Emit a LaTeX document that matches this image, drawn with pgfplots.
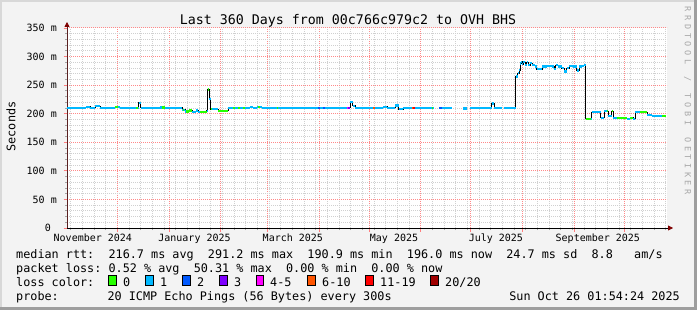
\documentclass[border=0pt]{standalone}
\usepackage{pgfplots}
\pgfplotsset{compat=1.18}
\usepackage{pgfplotstable}
\usepackage{fontspec}
\usetikzlibrary{arrows.meta}
\newfontfamily\dvm{DejaVu Sans Mono}
\newcommand\titlefont{\dvm\fontsize{13.3bp}{16bp}\selectfont}
\newcommand\legfont{\dvm\fontsize{11.8bp}{14bp}\selectfont}
\newcommand\tickfont{\dvm\fontsize{10bp}{12bp}\selectfont}
\newcommand\wl[1]{\makebox[8.7bp][c]{#1}}
\definecolor{bgc}{HTML}{F3F3F3}
\definecolor{shadea}{HTML}{D8D8D8}
\definecolor{shadeb}{HTML}{9E9E9E}
\definecolor{mgrid}{HTML}{FF2828}
\definecolor{ngrid}{HTML}{D0D0D0}
\definecolor{arrowc}{HTML}{7F0000}
\definecolor{yaxc}{HTML}{5A2020}
\definecolor{wmc}{HTML}{A8A8A8}
\definecolor{lc0}{HTML}{26FF00}
\definecolor{lc1}{HTML}{00B8FF}
\definecolor{lc2}{HTML}{0059FF}
\definecolor{lc3}{HTML}{7E00FF}
\definecolor{lc4}{HTML}{FF00FF}
\definecolor{lc6}{HTML}{FF5500}
\definecolor{lc11}{HTML}{FF0000}
\definecolor{lc20}{HTML}{A00000}

\pgfplotstableread{
day rtt
0 210.5
11.4 212
13.8 210.5
16.8 213
19.8 210.5
28.8 211.5
31.8 210.5
42.9 219
44.1 210.5
55.8 211
58.8 210.5
69.0 207
70.8 204
73.2 205.5
75.0 203.5
77.4 205.5
78.6 203.5
83.7 205
84.3 242.5
85.2 226
86.1 208
90.6 205
96.6 209.5
101.4 210.5
109.8 211.5
111.6 210.5
114.0 211.5
117.0 210.5
169.8 220
171.3 214
172.8 210.5
189.6 212
192.0 210.5
196.8 214.5
198.9 208
201.6 210.5
220.2 210.5
220.21 nan
223.2 210.5
231.0 210.5
231.01 nan
237.6 209
240.0 209
240.01 nan
241.8 210.5
254.7 218
256.2 210.5
261.0 210.5
261.01 nan
261.9 210.5
269.2 265
270.4 270.7
271.2 276.5
271.8 288
272.4 291
273.2 287
273.8 290.5
274.8 285.4
275.8 290.5
276.8 285.4
277.8 288.3
279.2 285.4
280.8 282.5
281.8 277.9
285.2 282.5
287.8 283.6
290.8 282.5
292.2 277.9
293.2 285.4
294.8 282.5
296.8 279.6
298.4 273.8
299.8 279.6
301.2 283.6
303.8 282.5
305.8 275.6
307.2 282.5
308.8 283.6
309.9 285.4
311.1 191
314.8 202.5
320.2 193
322.4 204.8
324.8 196.5
326.8 204.8
327.8 193
335.8 191
337.8 193
339.8 191
340.8 202.5
348.0 197.8
350.8 196.5
359.4 196.5
}\median

\begin{document}
\begin{tikzpicture}[x=1bp,y=1bp]
\useasboundingbox (0,0) rectangle (697,310);
\fill[bgc] (0,0) rectangle (697,310);
\fill[shadea] (0,0) rectangle (2,310);
\fill[shadea] (0,308) rectangle (697,310);
\fill[shadeb] (694,0) rectangle (697,310);
\fill[shadeb] (0,0) rectangle (697,3);

\begin{axis}[
  at={(67bp,82bp)}, anchor=south west,
  scale only axis, width=600bp, height=200bp,
  xmin=0, xmax=360, ymin=0, ymax=350,
  axis background/.style={fill=white},
  axis lines=left,
  x axis line style={black, line width=0.8bp, shorten >=-6bp, -{Triangle[length=5bp,width=5bp,color=arrowc]}},
  y axis line style={yaxc, line width=0.8bp, shorten >=-6bp, -{Triangle[length=5bp,width=5bp,color=arrowc]}},
  unbounded coords=jump,
  xtick={30.2,61.2,92.2,120.2,151.2,181.2,212.2,242.2,273.2,304.2,334.2},
  xticklabels={{},{},{},{},{},{},{},{},{},{},{}},
  minor xtick={2.2,9.2,...,359.2},
  extra x ticks={15.5,76.5,135.5,196.2,257.3,318.5},
  extra x tick labels={November 2024,January 2025,March 2025,May 2025,July 2025,September 2025},
  extra x tick style={grid=none, major tick length=0pt},
  xticklabel style={font=\tickfont, anchor=base, inner sep=0pt, yshift=-13.7bp},
  ytick={0,50,...,350},
  yticklabels={0~~,50~m,100~m,150~m,200~m,250~m,300~m,350~m},
  minor ytick={10,20,30,40,60,70,80,90,110,120,130,140,160,170,180,190,210,220,230,240,260,270,280,290,310,320,330,340},
  yticklabel style={font=\tickfont, anchor=east, inner sep=0pt, xshift=-6.5bp},
  grid=both,
  minor grid style={ngrid, dash pattern=on 1bp off 1bp, line width=1bp},
  major grid style={mgrid!55!white, dash pattern=on 1bp off 1bp, line width=1bp},
  tick align=outside,
  major tick length=3.5bp, minor tick length=2bp,
  major tick style={mgrid!60!white, line width=0.8bp},
  minor tick style={ngrid!80!black, line width=0.8bp},
]
\addplot[const plot, black, line width=0.8bp] table[x=day,y=rtt]{\median};
\addplot[jump mark left, lc1, line width=2.2bp] table[x=day,y=rtt]{\median};
\addplot[lc0, line width=2.2bp] coordinates {
(28.8,211.5)(30.6,211.5)(30.6,nan)
(41.4,210.5)(42.6,210.5)(42.6,nan)
(56.8,211)(58.8,211)(58.8,nan)
(69.4,207)(70.2,207)(70.2,nan)
(71.4,204)(73.2,204)(73.2,nan)
(73.3,205.5)(75,205.5)(75,nan)
(79.8,203.5)(83.7,203.5)(83.7,nan)
(84.3,242.5)(85.2,242.5)(85.2,nan)
(86.1,208)(87,208)(87,nan)
(90.6,205)(96.6,205)(96.6,nan)
(99.6,209.5)(100.8,209.5)(100.8,nan)
(102.6,210.5)(103.8,210.5)(103.8,nan)
(105.6,210.5)(106.8,210.5)(106.8,nan)
(114.6,211.5)(115.8,211.5)(115.8,nan)
(126,210.5)(126.6,210.5)(126.6,nan)
(218.8,210.5)(219.8,210.5)(219.8,nan)
(311.1,191)(314.4,191)(314.4,nan)
(323.8,204.8)(324.8,204.8)(324.8,nan)
(326.8,204.8)(327.6,204.8)(327.6,nan)
(330,193)(335.8,193)(335.8,nan)
(337.8,193)(339.8,193)(339.8,nan)
(343.8,202.5)(347.8,202.5)(347.8,nan)
(357,196.5)(359.4,196.5)
};
\addplot[lc2, line width=2.2bp] coordinates {
(150.6,210.5)(151.8,210.5)(151.8,nan)
(153.6,210.5)(154.8,210.5)(154.8,nan)
(223.2,210.5)(224.8,210.5)
};
\addplot[lc6, line width=2.2bp] coordinates {
(183.8,210.5)(184.8,210.5)(184.8,nan)
(206.8,210.5)(207.8,210.5)
};
\addplot[lc11, line width=2.2bp] coordinates {(207.8,210.5)(208.8,210.5)};
\addplot[lc4, line width=2.2bp] coordinates {(167.8,210.5)(168.8,210.5)};
\addplot[lc3, line width=2.2bp] coordinates {(168.8,210.5)(169.5,210.5)};
\end{axis}

% title
\node[anchor=base, inner sep=0pt] at (348,286) {\titlefont Last 360 Days from 00c766c979c2 to OVH BHS};
% y label
\node[rotate=90, inner sep=0pt] at (11,183.5) {\legfont Seconds};
% watermark
\node[rotate=-90, anchor=west, inner sep=0pt, text=wmc] at (687.5,305) {\dvm\fontsize{8.5bp}{9bp}\selectfont \wl{R}\wl{R}\wl{D}\wl{T}\wl{O}\wl{O}\wl{L}\wl{~}\wl{/}\wl{~}\wl{T}\wl{O}\wl{B}\wl{I}\wl{~}\wl{O}\wl{E}\wl{T}\wl{I}\wl{K}\wl{E}\wl{R}};

% legend
\node[anchor=base west, inner sep=0pt] at (16,52) {\legfont median~rtt:~~216.7~ms~avg~~291.2~ms~max~~190.9~ms~min~~196.0~ms~now~~24.7~ms~sd~~8.8~~~am/s};
\node[anchor=base west, inner sep=0pt] at (16,38) {\legfont packet~loss:~0.52~\%~avg~~50.31~\%~max~~0.00~\%~min~~0.00~\%~now};
\node[anchor=base west, inner sep=0pt] at (16,24) {\legfont loss~color:};
\foreach \bx/\tx/\c/\lab in {108.7/123/lc0/0, 145.7/160/lc1/1, 182.3/197/lc2/2, 219.3/234/lc3/3, 256/270/lc4/4-5, 307.3/322/lc6/6-10, 365.7/380/lc11/11-19, 430.7/445/lc20/20\slash 20}{
  \filldraw[fill=\c, draw=black, line width=0.8bp] (\bx,24.3) rectangle (\bx+7.8,34.3);
  \node[anchor=base west, inner sep=0pt] at (\tx,24) {\legfont \lab};
}
\node[anchor=base west, inner sep=0pt] at (16,10) {\legfont probe:};
\node[anchor=base west, inner sep=0pt] at (107.3,10) {\legfont 20~ICMP~Echo~Pings~(56~Bytes)~every~300s};
\node[anchor=base east, inner sep=0pt] at (680,10) {\legfont Sun~Oct~26~01:54:24~2025};
\end{tikzpicture}
\end{document}
